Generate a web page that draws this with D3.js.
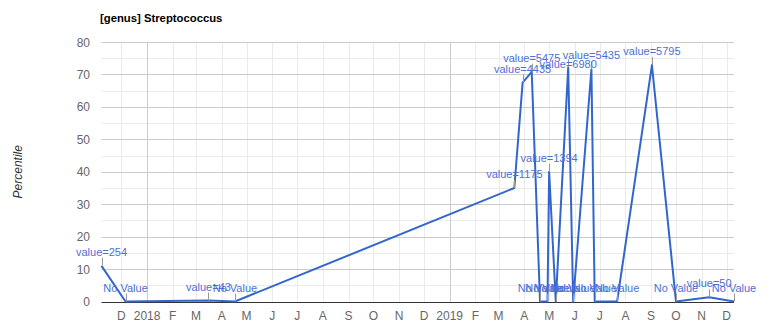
<!DOCTYPE html>
<html>
<head>
<meta charset="utf-8">
<script src="https://cdn.jsdelivr.net/npm/d3@7"></script>
<style>
  html, body { margin: 0; padding: 0; background: #fff; }
  svg { display: block; font-family: Arial, "Liberation Sans", sans-serif; }
</style>
</head>
<body>
<svg id="chart" width="776" height="334"></svg>
<script>
// ---- data ----
const chartTitle = "[genus] Streptococcus";
const yAxisTitle = "Percentile";
const dates = ["2017-11-07","2017-12-06","2018-03-16","2018-04-17","2019-03-20","2019-03-30",
  "2019-04-10","2019-04-20","2019-04-29","2019-05-01","2019-05-09","2019-05-24","2019-05-30",
  "2019-06-21","2019-06-25","2019-07-22","2019-09-02","2019-10-01","2019-11-10","2019-12-10"];
const percentiles = [11, 0, 0.3, 0, 35, 67.5, 70.8, 0, 0, 40, 0, 72.2, 0, 71.6, 0, 0, 72.9, 0, 1.3, 0];
const counts = [254, null, 43, null, 1175, 4435, 5475, null, null, 1394, null, 6980, null, 5435, null, null, 5795, null, 50, null];
const yTicks = [0, 10, 20, 30, 40, 50, 60, 70, 80];
const yMinorTicks = [5, 15, 25, 35, 45, 55, 65, 75];
const xTickLabels = ["D","2018","F","M","A","M","J","J","A","S","O","N","D","2019","F","M","A","M","J","J","A","S","O","N","D"];

// ---- layout ----
const plot = { left: 101.5, right: 734, top: 42, bottom: 301.5 };
const annotationNudge = { "value=6980": 11 };

const parse = d3.timeParse("%Y-%m-%d");
const points = dates.map((d, i) => ({
  date: parse(d),
  value: percentiles[i],
  label: counts[i] == null ? "No Value" : "value=" + counts[i]
}));

const svg = d3.select("#chart");
const x = d3.scaleTime()
  .domain(d3.extent(points, d => d.date))
  .range([plot.left, plot.right]);
const y = d3.scaleLinear().domain([0, 80]).range([plot.bottom, plot.top]);

// month ticks
const monthTicks = d3.timeMonth.range(new Date(2017, 11, 1), new Date(2019, 11, 2));

// gridlines
const grid = svg.append("g");
grid.selectAll(".ym").data(yMinorTicks).join("line")
  .attr("x1", plot.left).attr("x2", plot.right)
  .attr("y1", d => Math.round(y(d)) + 0.5).attr("y2", d => Math.round(y(d)) + 0.5)
  .attr("stroke", "#ebebeb");
grid.selectAll(".xm").data(monthTicks).join("line")
  .attr("x1", d => Math.round(x(d)) + 0.5).attr("x2", d => Math.round(x(d)) + 0.5)
  .attr("y1", plot.top).attr("y2", plot.bottom)
  .attr("stroke", d => d.getMonth() === 0 ? "#cccccc" : "#ebebeb");
grid.selectAll(".yM").data(yTicks.filter(t => t !== 0)).join("line")
  .attr("x1", plot.left).attr("x2", plot.right)
  .attr("y1", d => Math.round(y(d)) + 0.5).attr("y2", d => Math.round(y(d)) + 0.5)
  .attr("stroke", "#cccccc");

// y-axis labels
svg.append("g").selectAll("text").data(yTicks).join("text")
  .attr("x", 90).attr("y", d => y(d) + 4.5)
  .attr("text-anchor", "end")
  .attr("font-size", 12).attr("fill", "#666")
  .text(d => d);

// x-axis labels
svg.append("g").selectAll("text").data(monthTicks).join("text")
  .attr("x", d => x(d)).attr("y", 320)
  .attr("text-anchor", "middle")
  .attr("font-size", 12).attr("fill", "#666")
  .text((d, i) => xTickLabels[i]);

// baseline
svg.append("line")
  .attr("x1", plot.left).attr("x2", plot.right)
  .attr("y1", Math.round(y(0)) + 0.5).attr("y2", Math.round(y(0)) + 0.5)
  .attr("stroke", "#333");

// line
svg.append("path").datum(points)
  .attr("fill", "none").attr("stroke", "#3366cc").attr("stroke-width", 2)
  .attr("stroke-linejoin", "round")
  .attr("d", d3.line().x(d => x(d.date)).y(d => y(d.value)));

// annotations
const ann = svg.append("g");
points.forEach(p => {
  const px = x(p.date), py = y(p.value);
  ann.append("line")
    .attr("x1", Math.round(px) + 0.5).attr("x2", Math.round(px) + 0.5)
    .attr("y1", py).attr("y2", py - 8)
    .attr("stroke", "#999").attr("stroke-width", 1);
});
points.forEach(p => {
  const px = x(p.date), py = y(p.value);
  ann.append("text")
    .attr("x", px).attr("y", py - 10 + (annotationNudge[p.label] || 0))
    .attr("text-anchor", "middle")
    .attr("font-size", 11).attr("fill", "#4d6fd4")
    .text(p.label);
});

// title
svg.append("text")
  .attr("x", 100).attr("y", 21.5)
  .attr("font-size", 11.3).attr("font-weight", "bold").attr("fill", "#000")
  .text(chartTitle);

// y-axis title
svg.append("text")
  .attr("transform", `translate(22, ${(plot.top + plot.bottom) / 2}) rotate(-90)`)
  .attr("text-anchor", "middle")
  .attr("font-size", 12).attr("font-style", "italic").attr("fill", "#333")
  .text(yAxisTitle);
</script>
</body>
</html>
